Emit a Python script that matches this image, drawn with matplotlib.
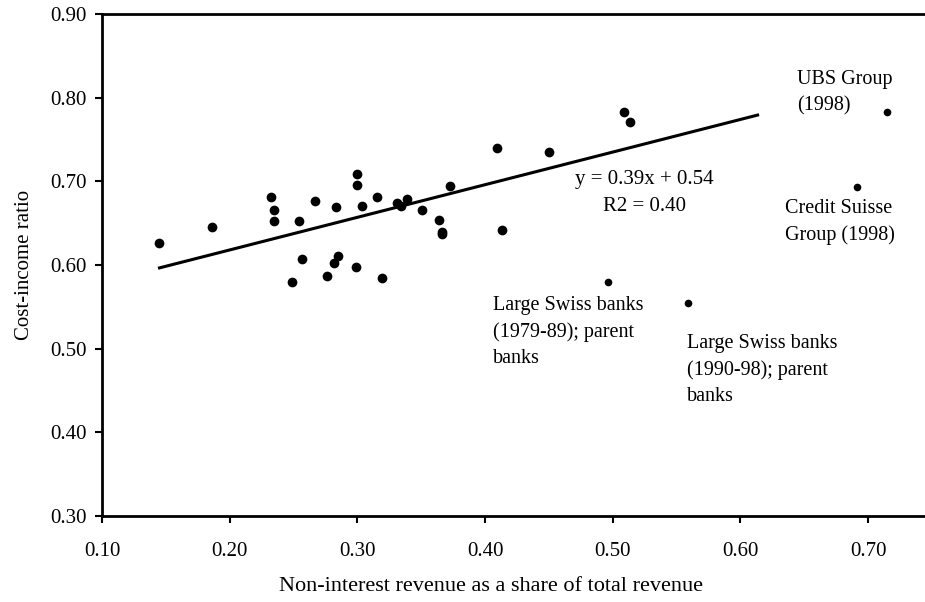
import numpy as np
import matplotlib
matplotlib.use('Agg')
import matplotlib.pyplot as plt

plt.rcParams['font.family'] = ['Liberation Serif', 'DejaVu Serif']

# bank observations (non-interest share, cost-income ratio)
share = [0.145, 0.186, 0.232, 0.235, 0.235, 0.2545, 0.2666, 0.283, 0.2566, 0.249,
         0.276, 0.282, 0.285, 0.2994, 0.2994, 0.3038, 0.315, 0.3307, 0.334, 0.3386,
         0.3508, 0.3636, 0.366, 0.3665, 0.3725, 0.409, 0.4134, 0.45, 0.2986, 0.3195,
         0.5088, 0.5135]
cost_ratio = [0.626, 0.646, 0.681, 0.666, 0.653, 0.653, 0.676, 0.669, 0.607, 0.580,
              0.587, 0.602, 0.611, 0.709, 0.696, 0.670, 0.681, 0.674, 0.670, 0.679,
              0.666, 0.654, 0.639, 0.637, 0.694, 0.740, 0.642, 0.735, 0.598, 0.584,
              0.7826, 0.7706]

# highlighted groups
group_names = ['Large Swiss banks\n(1979-89); parent\nbanks',
               'Large Swiss banks\n(1990-98); parent\nbanks',
               'UBS Group\n(1998)',
               'Credit Suisse\nGroup (1998)']
group_share = [0.4965, 0.5587, 0.715, 0.691]
group_ratio = [0.580, 0.554, 0.783, 0.693]
label_x = [0.406, 0.558, 0.644, 0.635]
label_y = [0.563, 0.518, 0.833, 0.679]

# trend line
slope, intercept = 0.39, 0.54
fit_range = [0.145, 0.6134]

xticks = [0.10, 0.20, 0.30, 0.40, 0.50, 0.60, 0.70]
yticks = [0.30, 0.40, 0.50, 0.60, 0.70, 0.80, 0.90]

fig = plt.figure(figsize=(9.25, 6.02), dpi=100)
ax = fig.add_axes([0.1103, 0.1429, 0.8897, 0.8338])

ax.plot(share, cost_ratio, 'o', color='black', ms=7, mew=0)
ax.plot(group_share, group_ratio, 'o', color='black', ms=5.5, mew=0)

fx = np.array(fit_range)
ax.plot(fx, slope * fx + intercept, color='black', lw=2.2)

ax.text(0.525, 0.702, 'y = 0.39x + 0.54', ha='center', va='center', fontsize=15)
ax.text(0.525, 0.670, 'R2 = 0.40', ha='center', va='center', fontsize=15)

for name, lx, ly in zip(group_names, label_x, label_y):
    ax.text(lx, ly, name, ha='left', va='top', fontsize=14.5, linespacing=1.5)

ax.set_xlim(0.10, 0.7445)
ax.set_ylim(0.30, 0.90)
ax.set_xticks(xticks)
ax.set_yticks(yticks)
ax.set_xticklabels(['%.2f' % v for v in xticks])
ax.set_yticklabels(['%.2f' % v for v in yticks])
ax.tick_params(direction='out', length=5, width=1.5, labelsize=15, pad=14)
ax.tick_params(axis='y', pad=6)
ax.spines['right'].set_visible(False)
for s in ['left', 'top', 'bottom']:
    ax.spines[s].set_linewidth(2)

ax.set_xlabel('Non-interest revenue as a share of total revenue', fontsize=16, labelpad=11)
ax.xaxis.label.set_x(0.473)
ax.set_ylabel('Cost-income ratio', fontsize=15, labelpad=12)

fig.savefig('out.png', dpi=100)
